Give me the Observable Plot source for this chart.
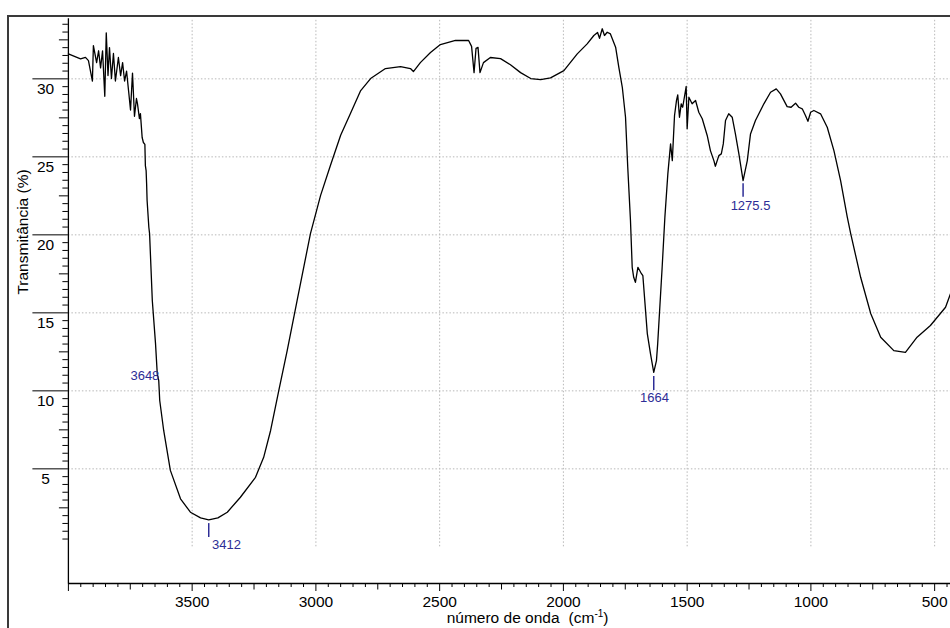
<!DOCTYPE html>
<html><head><meta charset="utf-8">
<script src="https://cdn.jsdelivr.net/npm/d3@7"></script>
<script src="https://cdn.jsdelivr.net/npm/@observablehq/plot@0.6"></script>
<style>
html,body{margin:0;padding:0;overflow:hidden;background:#fff;}
#wrap{position:relative;width:950px;height:628px;overflow:hidden;font-family:"Liberation Sans",Arial,sans-serif;}
#frame{position:absolute;left:7px;top:15px;width:1200px;height:1200px;border-left:2px solid #3a3a3a;border-top:2px solid #3a3a3a;pointer-events:none;}
#chart{position:absolute;left:0;top:0;}
</style></head>
<body>
<div id="wrap"><div id="chart"></div><div id="frame"></div></div>
<script>
// Spectrum: wavenumber (cm-1) and transmittance (%)
const wavenumber = [4000,3951,3931,3919,3903,3899,3886,3878,3870,3862,3853,3847,3840,3834,3826,3818,3810,3798,3789,3781,3773,3765,3757,3749,3741,3733,3725,3721,3713,3709,3702,3697,3691,3689,3686,3684,3682,3675,3672,3661,3648,3641,3635,3631,3615,3588,3547,3507,3466,3433,3396,3358,3305,3244,3211,3183,3150,3116,3076,3022,2981,2941,2900,2860,2819,2779,2719,2658,2618,2606,2578,2537,2497,2436,2383,2371,2361,2353,2345,2337,2323,2295,2254,2214,2173,2132,2092,2052,1998,1944,1904,1877,1862,1854,1843,1834,1823,1810,1789,1776,1762,1749,1740,1729,1722,1716,1709,1699,1688,1679,1661,1648,1641,1635,1624,1619,1601,1590,1578,1567,1560,1551,1543,1538,1531,1524,1518,1504,1500,1493,1480,1466,1453,1439,1419,1406,1392,1386,1372,1362,1354,1345,1332,1318,1305,1291,1274,1257,1244,1224,1190,1163,1140,1123,1096,1080,1062,1049,1035,1022,1012,1001,988,961,934,907,880,853,839,799,758,718,665,618,571,517,456,436];
const transmittance = [31.6,31.28,31.38,31.17,29.86,32.13,31.04,31.8,30.7,31.8,28.88,32.95,30.21,32.0,30.02,31.63,29.86,31.37,30.21,31.04,29.86,30.5,29.25,28.0,30.37,27.6,28.74,28.42,27.45,27.77,26.24,25.92,25.8,24.44,24.12,23.29,22.2,20.49,20.08,15.79,13.03,11.11,10.66,9.38,7.46,4.9,3.08,2.22,1.86,1.73,1.86,2.22,3.18,4.46,5.74,7.46,10.02,12.58,15.79,20.08,22.53,24.46,26.38,27.79,29.25,30.02,30.66,30.79,30.66,30.47,31.04,31.69,32.2,32.46,32.46,32.08,30.4,31.96,32.02,30.4,31.04,31.37,31.3,30.9,30.4,30.02,29.95,30.06,30.53,31.6,32.24,32.78,32.97,32.6,33.21,32.78,32.99,32.88,32.03,30.74,29.46,27.54,24.33,20.92,17.92,17.28,16.96,17.92,17.6,17.39,13.67,12.37,11.73,11.19,11.94,13.03,17.92,21.13,23.91,25.83,24.76,27.65,28.62,28.97,27.54,28.4,28.18,29.51,26.81,28.82,28.4,28.61,27.86,27.44,26.37,25.4,24.76,24.4,25.08,25.19,25.83,27.33,27.76,27.54,26.47,25.19,23.48,24.76,26.47,27.33,28.4,29.14,29.36,29.04,28.22,28.18,28.44,28.18,28.08,27.65,27.28,27.86,27.97,27.76,26.9,25.4,23.48,21.13,20.06,17.28,14.94,13.44,12.58,12.47,13.44,14.19,15.36,16.22];

// Peak annotations
const peakLabels = ["3648", "3412", "1664", "1275.5"];
const peakLabelWn = [3691, 3361, 1632, 1244];
const peakLabelT = [10.94, 0.13, 9.57, 21.88];
const peakMarkWn = [3433, 1635, 1274];
const peakMarkTop = [1.49, 10.92, 23.27];
const peakMarkBottom = [0.6, 10.02, 22.41];

// Axes
const xLabelTicks = [3500, 3000, 2500, 2000, 1500, 1000, 500];
const xMajorTicks = [4000, 3500, 3000, 2500, 2000, 1500, 1000, 500];
const xMediumTicks = [3750, 3250, 2750, 2250, 1750, 1250, 750];
const xMinorTicks = d3.range(4000, 440, -50).filter(v => v % 250 !== 0);
const yLabelTicks = [5, 10, 15, 20, 25, 30];
const yMediumTicks = [2.5, 7.5, 12.5, 17.5, 22.5, 27.5, 32.5];
const yMinorTicks = d3.range(0.5, 33.6, 0.5).filter(v => v % 2.5 !== 0);
const xGrid = [3500, 3000, 2500, 2000, 1500, 1000, 500];
const yGrid = [5, 10, 15, 20, 25, 30];
const xTitle = "número de onda";
const yTitle = "Transmitância (%)";

const spectrum = wavenumber.map((w, i) => ({wn: w, t: transmittance[i]}));
const labels = peakLabels.map((s, i) => ({text: s, wn: peakLabelWn[i], t: peakLabelT[i]}));
const marks = peakMarkWn.map((w, i) => ({wn: w, top: peakMarkTop[i], bot: peakMarkBottom[i]}));

const blue = "#2d2d96";
const gridStyle = {stroke: "#b8b8b8", strokeDasharray: "1.5,2", strokeWidth: 1};
const fs = 15.5;

const plot = Plot.plot({
  width: 950, height: 628,
  marginLeft: 67.9, marginRight: 0, marginTop: 18.3, marginBottom: 45,
  x: {domain: [4000, 400], range: [67.9, 958.9]},
  y: {domain: [-2.35, 33.85]},
  style: {fontFamily: "Liberation Sans, Arial, sans-serif", fontSize: fs + "px", background: "white", overflow: "hidden"},
  marks: [
    Plot.ruleY(yGrid, {x1: 4000, x2: 400, ...gridStyle}),
    Plot.ruleX(xGrid, {y1: 0, y2: 33.85, ...gridStyle}),
    Plot.ruleX([4000], {stroke: "black", strokeWidth: 1.3}),
    Plot.ruleY([-2.35], {stroke: "black", strokeWidth: 1.3}),
    Plot.axisY(yMinorTicks, {anchor: "left", tickSize: 5.5, tickFormat: () => "", label: null, strokeWidth: 1}),
    Plot.axisY(yMediumTicks, {anchor: "left", tickSize: 9, tickFormat: () => "", label: null, strokeWidth: 1}),
    Plot.axisY(yLabelTicks, {anchor: "left", tickSize: 35.5, tickFormat: () => "", label: null, strokeWidth: 1}),
    Plot.axisY(yLabelTicks, {anchor: "left", tickSize: 0, tickPadding: 22.9, textAnchor: "middle", dy: 10, tickFormat: d => String(d), label: null, fontSize: fs, fill: "black"}),
    Plot.axisX(xMinorTicks, {anchor: "bottom", tickSize: 4, tickFormat: () => "", label: null, strokeWidth: 1}),
    Plot.axisX(xMediumTicks, {anchor: "bottom", tickSize: 6.5, tickFormat: () => "", label: null, strokeWidth: 1}),
    Plot.axisX(xMajorTicks, {anchor: "bottom", tickSize: 8, tickFormat: () => "", label: null, strokeWidth: 1}),
    Plot.axisX(xLabelTicks, {anchor: "bottom", tickSize: 0, tickPadding: 12, tickFormat: d => String(d), label: null, fontSize: fs, fill: "black"}),
    Plot.line(spectrum, {x: "wn", y: "t", stroke: "black", strokeWidth: 1.3, curve: "linear"}),
    Plot.ruleX(marks, {x: "wn", y1: "top", y2: "bot", stroke: blue, strokeWidth: 1.5}),
    Plot.text(labels, {x: "wn", y: "t", text: "text", fill: blue, fontSize: 13, textAnchor: "middle"}),
    Plot.text([yTitle], {frameAnchor: "left", rotate: -90, dx: -45.2, dy: -6.6, fontSize: fs, fill: "black"})
  ]
});
document.getElementById("chart").appendChild(plot);

// x-axis title with superscript unit
const t = d3.select(plot).append("text")
  .attr("x", 446.7).attr("y", 623)
  .attr("text-anchor", "start")
  .attr("font-size", fs).attr("fill", "black")
  .attr("font-family", "Liberation Sans, Arial, sans-serif");
t.append("tspan").text(xTitle);
t.append("tspan").attr("dx", 9).text("(cm");
t.append("tspan").attr("font-size", 10).attr("dy", -6).text("-1");
t.append("tspan").attr("dy", 6).text(")");
</script>
</body></html>
